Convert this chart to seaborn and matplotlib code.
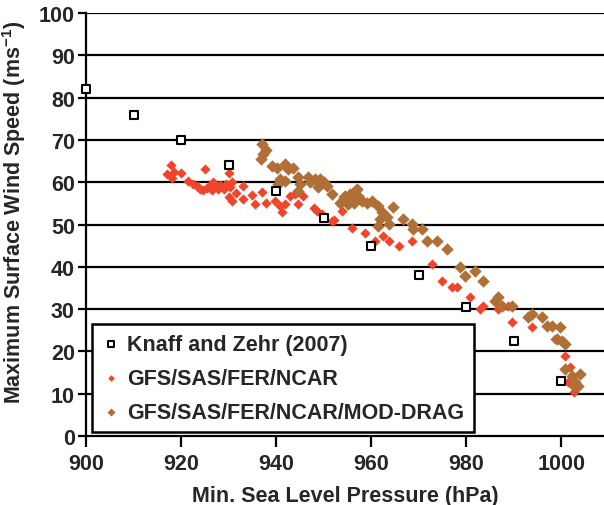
import numpy as np
import pandas as pd
import matplotlib
matplotlib.use("Agg")
import matplotlib.pyplot as plt
import seaborn as sns

# Knaff and Zehr (2007) wind-pressure relationship
kz_pressure = [900, 910, 920, 930, 940, 950, 960, 970, 980, 990, 1000]
kz_wind = [82, 76, 70, 64, 58, 51.5, 45, 38, 30.5, 22.5, 13]

# GFS/SAS/FER/NCAR
ncar_pressure = [917.0, 917.8, 918.0, 918.5, 919.9, 921.5, 922.5, 923.3, 924.0, 924.7,
                 925.1, 925.5, 926.0, 926.5, 926.8, 927.3, 927.8, 928.3, 929.0, 929.5,
                 930.0, 930.7, 930.3, 930.0, 930.7, 931.5, 933.0, 933.1, 934.9, 935.6,
                 937.0, 937.9, 939.8, 940.8, 941.2, 941.9, 942.9, 944.0, 944.7, 945.7,
                 947.9, 948.6, 949.6, 951.7, 952.1, 953.8, 955.9, 958.7, 960.8, 962.6,
                 963.7, 965.8, 968.6, 972.8, 974.9, 977.0, 978.0, 980.8, 982.9, 983.6,
                 986.8, 988.9, 989.6, 993.8, 998.7, 1000.8, 1001.9, 1001.5, 1002.6, 1003.3]
ncar_wind = [62.0, 64.0, 61.0, 62.5, 62.2, 60.3, 59.5, 59.0, 58.5, 58.2,
             63.1, 58.6, 59.3, 58.2, 60.1, 59.0, 58.3, 59.4, 58.4, 59.6,
             62.1, 60.0, 58.9, 56.4, 55.6, 57.5, 59.0, 56.0, 57.0, 54.8,
             57.6, 55.1, 55.6, 54.4, 52.9, 54.8, 56.8, 57.2, 54.8, 56.8,
             54.0, 53.3, 52.5, 50.9, 51.1, 53.3, 49.1, 48.0, 46.2, 47.2,
             46.2, 44.8, 46.2, 40.7, 36.7, 35.2, 35.2, 32.8, 30.0, 30.7,
             30.0, 30.8, 26.9, 25.7, 22.9, 19.0, 16.2, 12.7, 10.3, 11.9]

# GFS/SAS/FER/NCAR/MOD-DRAG
drag_pressure = [936.8, 937.0, 937.3, 937.8, 939.1, 940.1, 940.5, 940.8, 941.9, 941.9,
                 942.6, 943.6, 944.7, 945.1, 944.7, 946.8, 947.2, 948.2, 949.3, 950.0,
                 950.7, 948.9, 951.7, 953.5, 954.2, 954.9, 955.6, 956.6, 957.0, 957.7,
                 953.8, 954.5, 955.6, 956.6, 957.3, 956.3, 955.2, 958.0, 959.1, 960.1,
                 961.5, 962.2, 961.9, 961.5, 963.3, 963.7, 964.7, 966.8, 968.5, 968.9,
                 970.7, 971.7, 973.8, 975.9, 978.7, 979.8, 981.9, 983.6, 986.1, 986.8,
                 987.5, 989.6, 993.1, 993.8, 995.9, 997.0, 998.0, 999.8, 999.1, 1000.1,
                 1000.8, 1000.8, 1002.2, 1002.9, 1003.6, 1004.0, 1002.6]
drag_wind = [65.6, 69.0, 66.7, 67.5, 63.8, 63.3, 59.6, 60.8, 60.4, 64.3,
             63.1, 63.3, 61.2, 59.6, 58.0, 61.2, 60.0, 60.8, 60.8, 60.0,
             59.2, 58.8, 57.2, 55.2, 56.4, 55.2, 56.8, 56.0, 58.4, 56.0,
             55.6, 56.8, 57.2, 58.0, 56.8, 55.2, 54.8, 55.6, 55.2, 55.6,
             54.4, 52.9, 51.3, 49.7, 51.7, 50.1, 54.1, 51.3, 50.1, 48.9,
             48.9, 46.2, 46.2, 44.2, 39.9, 37.9, 39.1, 36.7, 32.0, 32.8,
             30.8, 30.8, 28.1, 28.8, 28.1, 26.1, 26.1, 25.7, 22.9, 22.5,
             21.7, 15.8, 14.3, 12.7, 11.9, 14.7, 11.9]

y_ticks = [0, 10, 20, 30, 40, 50, 60, 70, 80, 90, 100]
x_ticks = [900, 920, 940, 960, 980, 1000]

RED = "#f0452a"
BROWN = "#b06f36"
TEXT = "#262626"
FS = 15.5

sns.set_theme(style="white")
plt.rcParams["font.family"] = ["Liberation Sans", "DejaVu Sans"]
plt.rcParams["mathtext.default"] = "regular"

fig = plt.figure(figsize=(6.04, 5.06), dpi=100)
ax = fig.add_axes([86 / 604, 69 / 506, 518 / 604, 423 / 506])

for y in y_ticks[1:]:
    ax.axhline(y, color="black", lw=1.6, zorder=0)

sns.scatterplot(x=kz_pressure, y=kz_wind, ax=ax, marker="s", s=34,
                facecolor="white", edgecolor="black", linewidth=1.5,
                label="Knaff and Zehr (2007)", zorder=4, clip_on=False)
sns.scatterplot(x=ncar_pressure, y=ncar_wind, ax=ax, marker="D", s=27,
                color=RED, linewidth=0, label="GFS/SAS/FER/NCAR", zorder=2)
sns.scatterplot(x=drag_pressure, y=drag_wind, ax=ax, marker="D", s=40,
                color=BROWN, linewidth=0, label="GFS/SAS/FER/NCAR/MOD-DRAG", zorder=3)

ax.set_xlim(900, 1009)
ax.set_ylim(0, 100)
ax.set_xticks(x_ticks)
ax.set_yticks(y_ticks)
ax.tick_params(axis="both", which="major", direction="out", width=1.6,
               color="black", labelsize=FS, labelcolor=TEXT, left=True, bottom=True)
ax.tick_params(axis="y", length=6, pad=2)
ax.tick_params(axis="x", length=8, pad=4)
for lab in ax.get_xticklabels() + ax.get_yticklabels():
    lab.set_fontweight("bold")

for side in ["top", "right"]:
    ax.spines[side].set_visible(False)
for side in ["left", "bottom"]:
    ax.spines[side].set_color("black")
    ax.spines[side].set_linewidth(1.6)

ax.set_xlabel("Min. Sea Level Pressure (hPa)", fontsize=FS, fontweight="bold",
              color=TEXT)
ax.set_ylabel("Maximum Surface Wind Speed (ms$^{-1}$)", fontsize=FS, fontweight="bold",
              color=TEXT)
ax.xaxis.set_label_coords(0.5, -0.115)
ax.yaxis.set_label_coords(-0.112, 0.53)

leg = ax.legend(loc="lower left", bbox_to_anchor=(0.011, 0.009), frameon=True,
                fancybox=False, framealpha=1, edgecolor="black",
                prop={"weight": "bold", "size": FS}, labelspacing=0.6,
                handletextpad=0.3, borderpad=0.45, handlelength=0.9,
                borderaxespad=0, markerscale=0.65)
leg.get_frame().set_linewidth(1.8)
for t in leg.get_texts():
    t.set_color(TEXT)

fig.savefig("out.png", dpi=100)
